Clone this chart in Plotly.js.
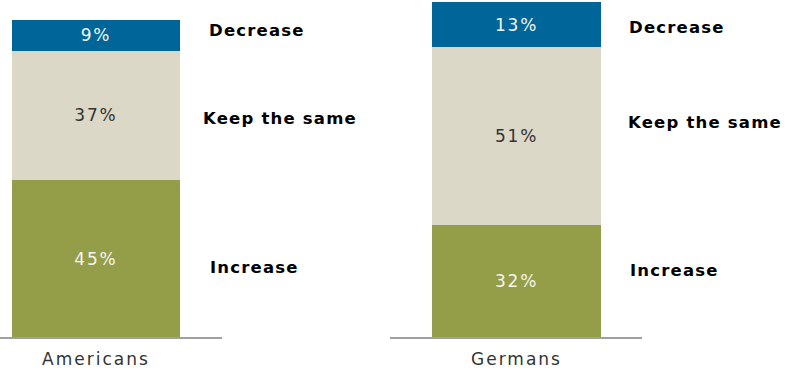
<!DOCTYPE html>
<html>
<head>
<meta charset="utf-8">
<script src="https://cdn.plot.ly/plotly-3.0.1.min.js"></script>
<style>
  html, body { margin: 0; padding: 0; background: #fff; }
  #chart { width: 787px; height: 372px; }
  .annotation-text { letter-spacing: 1.2px; }
  .xtick text, .x2tick text { letter-spacing: 2px; }
  .bartext { letter-spacing: 1.8px; }
</style>
</head>
<body>
<div id="chart"></div>
<script>
const categories = ["Americans", "Germans"];
const seriesNames = ["Increase", "Keep the same", "Decrease"];
const increase = [45, 32];
const keepSame = [37, 51];
const decrease = [9, 13];

const seriesValues = [increase, keepSame, decrease];
const colors = ["#949d48", "#dbd8c8", "#006699"];
const textColors = ["#f4f4f0", "#333333", "#f4f4f0"];
const axisRefs = ["x", "x2"];

const traces = [];
seriesValues.forEach((vals, s) => {
  categories.forEach((cat, i) => {
    traces.push({
      type: "bar",
      name: seriesNames[s],
      x: [cat],
      y: [vals[i]],
      xaxis: axisRefs[i],
      yaxis: "y",
      width: 1,
      marker: { color: colors[s], line: { width: 0 } },
      text: [vals[i] + "%"],
      textposition: "inside",
      insidetextanchor: "middle",
      textangle: 0,
      textfont: { family: "DejaVu Sans", size: 17, color: textColors[s] },
      hoverinfo: "skip",
      showlegend: false
    });
  });
});

// Series labels to the right of each bar (paper coordinates)
const labelPos = [
  { cat: 0, s: 2, x: 207, y: 31 },
  { cat: 0, s: 1, x: 201, y: 118 },
  { cat: 0, s: 0, x: 208, y: 267 },
  { cat: 1, s: 2, x: 627, y: 28 },
  { cat: 1, s: 1, x: 626, y: 123 },
  { cat: 1, s: 0, x: 628, y: 270 }
];
const W = 787, PH = 337;
const annotations = labelPos.map(p => ({
  xref: "paper", yref: "paper",
  x: p.x / W, y: (PH - p.y) / PH,
  xanchor: "left", yanchor: "middle",
  text: "<b>" + seriesNames[p.s] + "</b>",
  showarrow: false,
  font: { family: "DejaVu Sans", size: 16.5, color: "#000000" }
}));

const xaxisCommon = {
  type: "category",
  showline: true,
  linecolor: "#a0a0a0",
  linewidth: 1.5,
  showgrid: false,
  zeroline: false,
  ticks: "",
  ticklabelstandoff: 6,
  tickfont: { family: "DejaVu Sans", size: 17, color: "#333333" },
  fixedrange: true
};

const layout = {
  width: 787,
  height: 372,
  margin: { l: 0, r: 0, t: 0, b: 35, pad: 0 },
  paper_bgcolor: "#ffffff",
  plot_bgcolor: "#ffffff",
  barmode: "stack",
  showlegend: false,
  xaxis: Object.assign({}, xaxisCommon, {
    domain: [0, 222 / W],
    range: [-0.571, 0.75],
    anchor: "y"
  }),
  xaxis2: Object.assign({}, xaxisCommon, {
    domain: [390 / W, 642 / W],
    range: [-0.749, 0.743],
    anchor: "y"
  }),
  yaxis: {
    range: [0, 96.6],
    visible: false,
    showgrid: false,
    zeroline: false,
    fixedrange: true
  },
  annotations: annotations
};

Plotly.newPlot("chart", traces, layout, { displayModeBar: false, staticPlot: true });
</script>
</body>
</html>
